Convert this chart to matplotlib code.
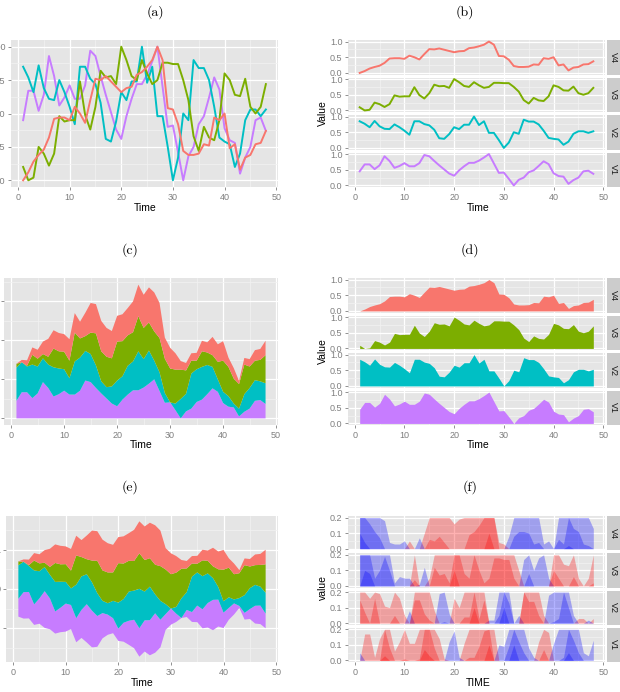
import numpy as np
import matplotlib.pyplot as plt
from matplotlib.ticker import MultipleLocator, FormatStrFormatter

plt.rcParams['font.family'] = ['Liberation Sans', 'DejaVu Sans']

time = np.arange(1, 49)
v1 = [0.45, 0.67, 0.67, 0.52, 0.64, 0.93, 0.78, 0.56, 0.62, 0.71,
      0.61, 0.61, 0.71, 0.97, 0.93, 0.78, 0.64, 0.51, 0.38, 0.31,
      0.48, 0.61, 0.72, 0.72, 0.79, 0.89, 1.00, 0.70, 0.40, 0.41,
      0.21, 0.00, 0.18, 0.25, 0.42, 0.48, 0.62, 0.77, 0.68, 0.39,
      0.30, 0.28, 0.05, 0.17, 0.25, 0.45, 0.47, 0.37]
v2 = [0.85, 0.77, 0.66, 0.86, 0.69, 0.61, 0.60, 0.75, 0.66, 0.55,
      0.42, 0.85, 0.85, 0.76, 0.72, 0.58, 0.31, 0.29, 0.44, 0.66,
      0.60, 0.74, 0.74, 1.00, 0.73, 0.85, 0.48, 0.48, 0.25, 0.00,
      0.17, 0.50, 0.45, 0.90, 0.84, 0.84, 0.75, 0.55, 0.32, 0.29,
      0.27, 0.10, 0.20, 0.45, 0.53, 0.53, 0.48, 0.53]
v3 = [0.10, 0.00, 0.02, 0.25, 0.20, 0.11, 0.20, 0.48, 0.44, 0.45,
      0.45, 0.74, 0.49, 0.38, 0.55, 0.82, 0.77, 0.78, 0.72, 1.00,
      0.90, 0.78, 0.75, 0.90, 0.80, 0.72, 0.75, 0.88, 0.88, 0.87,
      0.87, 0.75, 0.60, 0.33, 0.22, 0.40, 0.32, 0.30, 0.45, 0.80,
      0.75, 0.64, 0.63, 0.76, 0.55, 0.50, 0.55, 0.72]
v4 = [0.00, 0.06, 0.14, 0.19, 0.23, 0.32, 0.46, 0.47, 0.47, 0.45,
      0.55, 0.50, 0.43, 0.60, 0.76, 0.75, 0.78, 0.74, 0.70, 0.66,
      0.69, 0.70, 0.79, 0.81, 0.85, 0.90, 1.00, 0.90, 0.54, 0.53,
      0.42, 0.22, 0.19, 0.19, 0.20, 0.27, 0.26, 0.47, 0.45, 0.50,
      0.24, 0.27, 0.08, 0.17, 0.19, 0.27, 0.28, 0.37]

names = ['V1', 'V2', 'V3', 'V4']
colors = ['#C77CFF', '#00BFC4', '#7CAE00', '#F8766D']
facet_order = ['V4', 'V3', 'V2', 'V1']
titles = ['(a)', '(b)', '(c)', '(d)', '(e)', '(f)']
horizon_origin = 0.5
horizon_band = 0.2
horizon_nbands = 3

series = dict(zip(names, [np.array(v1), np.array(v2), np.array(v3), np.array(v4)]))
col = dict(zip(names, colors))

W, H = 620, 692
fig = plt.figure(figsize=(6.2, 6.92), dpi=100)


def px_axes(left, top, right, bottom):
    return fig.add_axes([left / W, 1 - bottom / H, (right - left) / W, (bottom - top) / H])


def gg_style(ax, ymajor, fmt):
    ax.set_facecolor('#E5E5E5')
    for s in ax.spines.values():
        s.set_visible(False)
    ax.set_xlim(-1.35, 50.35)
    ax.xaxis.set_major_locator(MultipleLocator(10))
    ax.xaxis.set_minor_locator(MultipleLocator(5))
    ax.yaxis.set_major_locator(MultipleLocator(ymajor))
    ax.yaxis.set_minor_locator(MultipleLocator(ymajor / 2))
    ax.yaxis.set_major_formatter(FormatStrFormatter(fmt))
    ax.grid(which='major', color='white', lw=0.9)
    ax.grid(which='minor', color='#F2F2F2', lw=0.5)
    ax.set_axisbelow(True)
    ax.tick_params(which='major', length=2.5, width=0.6, color='#7F7F7F',
                   labelcolor='#7F7F7F', labelsize=6.5, pad=1.5)
    ax.tick_params(which='minor', length=0)


def facet_axes(top, bottom, ymajor, ylim, fmt, left=348, right=605, gap=3):
    h = (bottom - top - 3 * gap) / 4
    axes = {}
    for k, name in enumerate(facet_order):
        t = top + k * (h + gap)
        ax = px_axes(left, t, right, t + h)
        gg_style(ax, ymajor, fmt)
        ax.set_ylim(*ylim)
        if k < 3:
            ax.tick_params(axis='x', length=0, labelbottom=False)
        strip = px_axes(right + 2, t, 620, t + h)
        strip.set_facecolor('#CCCCCC')
        strip.set_xticks([])
        strip.set_yticks([])
        for s in strip.spines.values():
            s.set_visible(False)
        strip.text(0.5, 0.5, name, rotation=-90, ha='center', va='center',
                   fontsize=6.5, color='#1A1A1A', transform=strip.transAxes)
        axes[name] = ax
    return axes


def label(x, y, text, rot=0, size=7.5):
    fig.text(x / W, 1 - y / H, text, ha='center', va='center', rotation=rot,
             fontsize=size, color='black')


# titles
for txt, (x, y) in zip(titles, [(155, 12), (465, 12), (130, 250), (470, 250), (130, 487), (470, 487)]):
    fig.text(x / W, 1 - y / H, txt, ha='center', va='center', fontsize=10, family='cmr10')

# (a) all lines in one panel
ax = px_axes(11, 40, 278, 187)
gg_style(ax, 0.25, '%.2f')
ax.set_ylim(-0.05, 1.05)
for name in names:
    ax.plot(time, series[name], color=col[name], lw=1.4)
label(145, 208, 'Time')

# (b) faceted lines
axb = facet_axes(40, 187, 0.5, (-0.05, 1.05), '%.1f')
for name in names:
    axb[name].plot(time, series[name], color=col[name], lw=1.4)
label(478, 208, 'Time')
label(323, 113, 'Value', rot=90)

# (c) stacked areas
ax = px_axes(4, 278, 278, 425)
gg_style(ax, 1, '%d')
ax.stackplot(time, *[series[n] for n in names], colors=colors, lw=0)
ax.set_ylim(-0.17, 3.6)
label(141, 445, 'Time')

# (d) faceted areas
axd = facet_axes(278, 425, 0.5, (-0.05, 1.05), '%.1f')
for name in names:
    axd[name].fill_between(time, 0, series[name], color=col[name], lw=0)
label(478, 445, 'Time')
label(323, 351, 'Value', rot=90)

# (e) streamgraph
ax = px_axes(6, 516, 278, 662)
gg_style(ax, 1, '%d')
ax.stackplot(time, *[series[n] for n in names], colors=colors, lw=0, baseline='sym')
ax.set_ylim(-1.85, 1.85)
label(142, 683, 'Time')

# (f) horizon plot
axf = facet_axes(516, 662, 0.1, (-0.01, 0.21), '%.1f')
for name in names:
    dev = series[name] - horizon_origin
    pos = np.clip(dev, 0, None)
    neg = np.clip(-dev, 0, None)
    for i in range(horizon_nbands):
        up = np.clip(pos - i * horizon_band, 0, horizon_band)
        dn = np.clip(neg - i * horizon_band, 0, horizon_band)
        axf[name].fill_between(time, 0, up, color='red', alpha=0.3, lw=0)
        axf[name].fill_between(time, 0, dn, color='blue', alpha=0.3, lw=0)
label(478, 683, 'TIME')
label(323, 588, 'value', rot=90)

fig.savefig('out.png', dpi=100)
